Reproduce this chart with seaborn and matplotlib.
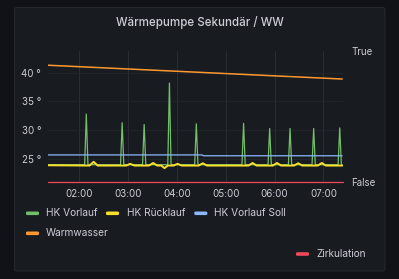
import matplotlib
matplotlib.use("Agg")
import matplotlib.pyplot as plt
from matplotlib.patches import FancyBboxPatch
import seaborn as sns

# ---- data (minutes since 00:00) ----
green_t = [82, 127, 129, 131, 171, 173, 175, 198, 200, 202, 229, 231, 233,
           262, 264, 266, 320, 322, 324, 352, 354, 356, 377, 379, 381,
           406, 408, 410, 438, 440, 442, 443]
green_v = [24.0, 24.0, 32.8, 24.0, 24.0, 31.3, 24.0, 24.0, 31.0, 24.0, 24.0, 38.2, 24.0,
           24.0, 31.1, 24.0, 24.0, 31.2, 24.0, 24.0, 30.3, 24.0, 24.0, 30.3, 24.0,
           24.0, 30.3, 24.0, 24.0, 30.4, 24.0, 24.0]

yellow_t = [82, 133, 138, 143, 178, 183, 188, 206, 211, 216, 221, 225, 229,
            236, 241, 246, 267, 272, 277, 328, 333, 338, 358, 363, 368,
            384, 389, 394, 413, 418, 423, 443]
yellow_v = [23.9, 23.85, 24.5, 23.85, 23.85, 24.15, 23.85, 23.85, 24.3, 23.85, 23.85, 23.4, 23.85,
            23.85, 24.15, 23.85, 23.85, 24.25, 23.85, 23.85, 24.3, 23.85, 23.85, 24.3, 23.85,
            23.85, 24.25, 23.85, 23.85, 24.3, 23.85, 23.85]

blue_t = [82, 271, 273, 443]
blue_v = [25.7, 25.7, 25.55, 25.55]

orange_t = [82, 443]
orange_v = [41.3, 38.9]

red_t = [82, 444]
red_v = [0, 0]

tick_minutes = [120, 180, 240, 300, 360, 420]
tick_labels = ["02:00", "03:00", "04:00", "05:00", "06:00", "07:00"]
left_ticks = [25, 30, 35, 40]
left_labels = ["25 °", "30 °", "35 °", "40 °"]
right_labels = ["False", "True"]

title = "Wärmepumpe Sekundär / WW"
series_names = ["HK Vorlauf", "HK Rücklauf", "HK Vorlauf Soll", "Warmwasser", "Zirkulation"]
colors = ["#73BF69", "#FADE2A", "#8AB8FF", "#FF9830", "#F2495C"]

# ---- style ----
sns.set_theme(style="dark")
plt.rcParams['font.family'] = ['Inter', 'DejaVu Sans']
TXT = "#cdcdd8"
BG = "#111217"
PANEL = "#181b1f"

W, H = 399, 279
fig = plt.figure(figsize=(W / 100, H / 100), dpi=100, facecolor=BG)

def fx(px):
    return px / W

def fy(py):
    return 1 - py / H

panel = FancyBboxPatch((fx(14.5), fy(271)), fx(370.5), (271 - 7.5) / H,
                       boxstyle="round,pad=0,rounding_size=0.006",
                       transform=fig.transFigure, facecolor=PANEL,
                       edgecolor="#24272d", linewidth=0.8, zorder=0)
fig.add_artist(panel)

ax_l, ax_r, ax_t, ax_b = 48, 343, 50.7, 182.3
ax = fig.add_axes([fx(ax_l), fy(ax_b), fx(ax_r - ax_l), (ax_b - ax_t) / H])
ax.set_facecolor("none")

y_lo = 40 - (ax_b - 72.7) / 5.75
y_hi = 40 + (72.7 - ax_t) / 5.75

sns.lineplot(x=green_t, y=green_v, ax=ax, color=colors[0], lw=0.9)
sns.lineplot(x=yellow_t, y=yellow_v, ax=ax, color=colors[1], lw=1.4)
sns.lineplot(x=blue_t, y=blue_v, ax=ax, color=colors[2], lw=0.9)
sns.lineplot(x=orange_t, y=orange_v, ax=ax, color=colors[3], lw=1.1)

ax.set_xlim(82, 444)
ax.set_ylim(y_lo, y_hi)
ax.set_xticks(tick_minutes)
ax.set_xticklabels(tick_labels)
ax.set_yticks(left_ticks)
ax.set_yticklabels(left_labels)
ax.tick_params(axis="both", length=0, labelsize=7, colors=TXT)
ax.tick_params(axis="y", pad=5)
ax.tick_params(axis="x", pad=5)
ax.grid(True, axis="x", color="#2a2d33", lw=0.7)
ax.grid(True, axis="y", color="#212429", lw=0.7)
for s in ax.spines.values():
    s.set_visible(False)
ax.set_xlabel("")
ax.set_ylabel("")

ax2 = ax.twinx()
sns.lineplot(x=red_t, y=red_v, ax=ax2, color=colors[4], lw=0.9)
for ln in ax2.get_lines():
    ln.set_clip_on(False)
ax2.set_ylim(0, 1)
ax2.set_yticks([0, 1])
ax2.set_yticklabels(right_labels)
ax2.tick_params(axis="y", length=0, labelsize=7, colors=TXT, pad=6)
ax2.grid(False)
for s in ax2.spines.values():
    s.set_visible(False)
ax2.set_ylabel("")
ax2.set_facecolor("none")

fig.text(fx(199.5), fy(22.5), title, ha="center", va="center", color=TXT,
         fontsize=8.3, fontweight="medium")

# ---- legend ----
legend_items = [
    (0, 26, 45.7, 213.3),
    (1, 106, 126.7, 213.3),
    (2, 194.3, 214.3, 213.3),
    (3, 26, 45.7, 233.3),
    (4, 296, 316, 254),
]
for idx, sx, tx, ty in legend_items:
    sw = FancyBboxPatch((fx(sx), fy(ty + 1.8)), fx(13), 3.6 / H,
                        boxstyle="round,pad=0,rounding_size=0.004",
                        transform=fig.transFigure, facecolor=colors[idx],
                        edgecolor="none")
    fig.add_artist(sw)
    fig.text(fx(tx), fy(ty), series_names[idx], ha="left", va="center",
             color=TXT, fontsize=7.3)

fig.savefig("out.png", dpi=100, facecolor=BG)
